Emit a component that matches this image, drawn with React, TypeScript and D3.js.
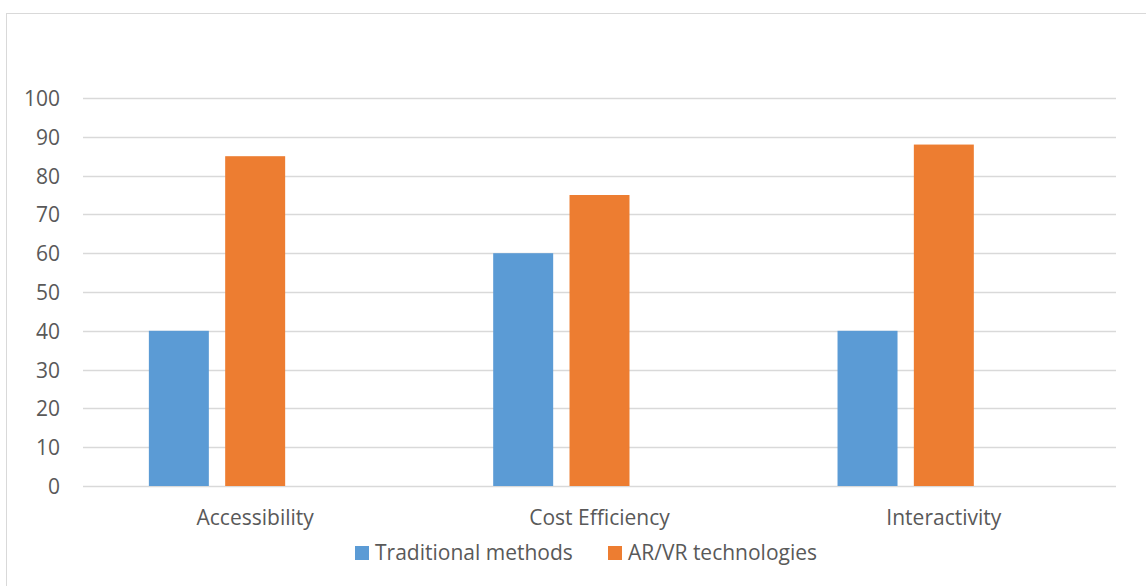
import React from "react";
import * as d3 from "d3";

const categories = ["Accessibility", "Cost Efficiency", "Interactivity"];
const seriesNames = ["Traditional methods", "AR/VR technologies"];
const traditionalValues = [40, 60, 40];
const arvrValues = [85, 75, 88];
const yTicks = [0, 10, 20, 30, 40, 50, 60, 70, 80, 90, 100];
const colors = ["#5B9BD5", "#ED7D31"];

const W = 1146;
const H = 586;
const FONT = "'Open Sans', sans-serif";
const FS = 21;

export default function App() {
  const left = 83;
  const right = 1116;
  const top = 98;
  const bottom = 486;

  const x = d3.scaleBand<string>().domain(categories).range([left, right]).padding(0);
  // third hidden slot reproduces the original spacing
  const inner = d3
    .scaleBand<string>()
    .domain([...seriesNames, "_empty"])
    .range([0, x.bandwidth()])
    .paddingInner(0.214)
    .paddingOuter(0.863);
  const y = d3.scaleLinear().domain([0, 100]).range([bottom, top]);

  const seriesValues = [traditionalValues, arvrValues];

  return (
    <svg
      width={W}
      height={H}
      style={{ position: "absolute", left: 0, top: 0, background: "#fff" }}
    >
      <rect x={6.5} y={13.5} width={1150} height={600} fill="#fff" stroke="#D9D9D9" strokeWidth={1} />
      {yTicks.map((t) => (
        <g key={t}>
          <line x1={left} x2={right} y1={Math.round(y(t)) + 0.5} y2={Math.round(y(t)) + 0.5} stroke="#D9D9D9" strokeWidth={1.3} />
          <text
            x={60}
            y={y(t)}
            textAnchor="end"
            dominantBaseline="central"
            fontFamily={FONT}
            fontSize={FS}
            fill="#595959"
          >
            {t}
          </text>
        </g>
      ))}
      {categories.map((c, i) => (
        <g key={c}>
          {seriesNames.map((s, si) => {
            const v = seriesValues[si][i];
            return (
              <rect
                key={s}
                x={(x(c) as number) + (inner(s) as number)}
                y={y(v)}
                width={inner.bandwidth()}
                height={y(0) - y(v)}
                fill={colors[si]}
              />
            );
          })}
          <text
            x={(x(c) as number) + x.bandwidth() / 2}
            y={525}
            textAnchor="middle"
            fontFamily={FONT}
            fontSize={FS}
            fill="#595959"
          >
            {c}
          </text>
        </g>
      ))}
      <g>
        <rect x={355} y={546} width={14} height={14} fill={colors[0]} />
        <text x={375} y={560} fontFamily={FONT} fontSize={FS} fill="#595959">
          {seriesNames[0]}
        </text>
        <rect x={608} y={546} width={14} height={14} fill={colors[1]} />
        <text x={628} y={560} fontFamily={FONT} fontSize={FS} fill="#595959">
          {seriesNames[1]}
        </text>
      </g>
    </svg>
  );
}
